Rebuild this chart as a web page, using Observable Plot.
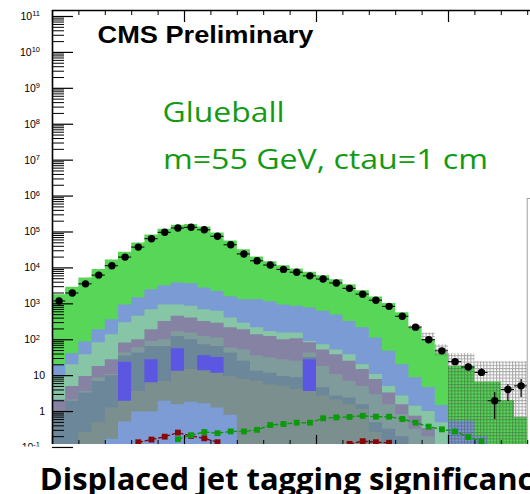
<!DOCTYPE html>
<html><head><meta charset="utf-8">
<script src="https://cdn.jsdelivr.net/npm/d3@7"></script>
<script src="https://cdn.jsdelivr.net/npm/@observablehq/plot@0.6"></script>
<style>html,body{margin:0;padding:0;background:#fff;overflow:hidden;}</style>
</head><body><div id="chart"></div>
<script>
// bin lower edges (36 bins)
const binLo = [0,1,2,3,4,5,6,7,8,9,10,11,12,13,14,15,16,17,18,19,20,21,22,23,24,25,26,27,28,29,30,31,32,33,34,35];

// observed data (black points)
const dataCounts = [1.2e3,2.0e3,3.6e3,6.3e3,1.15e4,2.0e4,3.8e4,6.5e4,9.8e4,1.29e5,1.35e5,1.15e5,7.6e4,4.4e4,2.45e4,1.58e4,1.2e4,9.1e3,7.6e3,6.0e3,4.9e3,3.8e3,2.7e3,1.86e3,1.26e3,850,450,224,100,49,24.5,17.4,12.3,2.0,4.1,5.2];
const dataErrLo = [null,null,null,null,null,null,null,null,null,null,null,null,null,null,null,null,null,null,null,null,null,null,null,null,null,null,null,null,null,44,20,14,9.5,0.6,1.9,2.45];
const dataErrHi = [null,null,null,null,null,null,null,null,null,null,null,null,null,null,null,null,null,null,null,null,null,null,null,null,null,null,null,null,null,54,29,21,15.5,3.4,5.6,7.8];

// stacked background (cumulative tops), largest first
const stackGreen = [1780,2900,5200,9100,16600,27500,49000,83000,120000,155000,162000,138000,93000,56000,32000,20000,14800,11500,9300,7600,6000,4700,3400,2300,1550,1020,560,204,100,41,18,18,6.5,6.5,2.0,0.68];
const stackBlue = [20,41,87,190,360,930,1480,2450,3200,3800,3600,2750,2200,1580,1290,1290,1150,930,850,760,620,490,320,215,112,48,20,8.7,4.7,1.47,0.54,0.54,0.2,null,null,null];
const stackTeal = [9.5,20,38,83,138,295,450,680,930,930,850,680,620,400,290,215,170,155,155,89,72,52,38,20,10.7,5.0,2.7,1.4,1.0,0.49,null,null,null,null,null,null];
const stackPurple = [2.1,5.0,9.5,18,27.5,81,100,190,320,450,400,320,290,215,190,138,123,100,107,83,52,38,25,14.8,7.8,3.3,1.55,0.74,0.34,null,null,null,null,null,null,null];
const stackGrayTeal = [0.93,2.1,3.6,8.7,10.7,43,60,89,100,170,155,123,112,59,52,35,31,27.5,25,43,18,10.7,6.9,5.0,2.95,1.55,0.83,0.32,0.2,null,null,null,null,null,null,null];
const stackSlate = [0.83,1.95,3.3,6.9,10,35,43,65,65,123,100,72,65,43,25,13.2,11.7,9.5,8.7,32,4.6,2.7,2.4,1.55,0.49,0.32,0.2,null,null,null,null,null,null,null,null,null];
const stackBrightBlue = [null,null,null,null,null,23.5,null,27.5,null,56,null,36,32,null,null,null,null,null,null,27.5,null,null,null,null,null,null,null,null,null,null,null,null,null,null,null,null];
const stackGray = [null,null,0.26,0.49,1.26,1.95,3.6,6.3,6.9,13.2,14.8,13.8,11.7,9.5,7.8,6.9,5.6,5.0,4.1,3.6,2.7,2.1,1.55,1.15,0.26,null,null,null,null,null,null,null,null,null,null,null];
const stackLightBlue = [null,null,null,null,0.17,0.51,0.98,0.98,1.95,1.55,1.82,1.66,1.26,0.79,null,null,null,null,null,null,null,null,null,null,null,null,null,null,null,null,null,null,null,null,null,null];

// MC uncertainty band
const bandLo = [null,null,null,null,null,null,null,null,null,null,null,null,null,null,null,null,null,null,null,null,null,null,null,null,null,null,null,190,93,36,0.01,0.01,0.01,0.01,0.01,0.01];
const bandHi = [null,null,null,null,null,null,null,null,null,null,null,null,null,null,null,null,null,null,null,null,null,null,null,null,null,null,null,250,155,72,41,41,24.5,24.5,24.5,24.5];

// signal overlays
const sigGreen = [null,null,null,null,null,null,null,null,null,0.17,0.22,0.27,0.25,0.28,0.28,0.31,0.42,0.45,0.49,0.49,0.65,0.69,0.71,0.76,0.72,0.72,0.62,0.49,0.38,0.32,0.28,0.195,0.15,null,null,null];
const sigRed = [null,null,null,null,null,null,0.14,0.166,0.2,0.26,0.21,0.18,0.14,null,null,null,null,null,null,null,null,null,0.126,0.15,0.14,0.135,null,null,null,null,null,null,null,null,null,null];

// axis ticks and labels
const yExpLabels = [11,10,9,8,7,6,5,4,3,2,-1];
const yPlainLabels = [{v: 10, t: "10"}, {v: 1, t: "1"}];
const yDecades = [-1,0,1,2,3,4,5,6,7,8,9,10,11];
const yMinorMult = [2,3,4,5,6,7,8,9];
const xMajor = [0,10,20,30];
const xMinor = [2,4,6,8,12,14,16,18,22,24,26,28,32,34,36];

const titleText = ["CMS Preliminary"];
const sampleText = ["Glueball"];
const paramText = ["m=55 GeV, ctau=1 cm"];
const xTitle = ["Displaced jet tagging significance"];

const yMin = 10 ** -0.917, yMax = 10 ** 11.167;
const legendEdge = 36.0, legendTop = 8.3e5;

const layers = [
  {vals: stackGreen, color: "#57d657"},
  {vals: stackBlue, color: "#7b9bd5"},
  {vals: stackTeal, color: "#86c5a5"},
  {vals: stackPurple, color: "#8682a3"},
  {vals: stackGrayTeal, color: "#7f9b9b"},
  {vals: stackSlate, color: "#6c8799"},
  {vals: stackBrightBlue, color: "#5b57e3"},
  {vals: stackGray, color: "#7a8f8e"},
  {vals: stackLightBlue, color: "#7d9cd6"}
];

const rows = (arr) => binLo.map((b, i) => ({b, v: arr[i]})).filter(d => d.v != null);
// histogram step outline: each bin contributes its two edges
const steps = (arr) => binLo.flatMap((b, i) => [{x: b, v: arr[i]}, {x: b + 1, v: arr[i]}]);

const minorY = [];
for (const e of yDecades) for (const m of yMinorMult) { const v = m * 10 ** e; if (v > yMin && v < yMax) minorY.push(v); }
const majorY = yDecades.map(e => 10 ** e);

const frameW = 478, frameH = 434;

const marks = [];
for (const L of layers) {
  marks.push(Plot.area(steps(L.vals), {x1: "x", y1: yMin, y2: "v", fill: L.color, clip: true}));
}
marks.push(Plot.area(binLo.flatMap((b, i) => [{x: b, lo: bandLo[i], hi: bandHi[i]}, {x: b + 1, lo: bandLo[i], hi: bandHi[i]}]),
  {x1: "x", y1: "lo", y2: "hi", fill: "url(#hatch)", clip: true}));

// signal overlays
marks.push(Plot.line(binLo.map((b, i) => ({b, v: sigRed[i]})), {x: d => d.b + 0.5, y: "v", stroke: "#860808", strokeWidth: 1.4, strokeDasharray: "4,3", clip: true}));
marks.push(Plot.dot(rows(sigRed), {x: d => d.b + 0.5, y: "v", symbol: "square", r: 3.3, fill: "#860808", clip: true}));
marks.push(Plot.line(binLo.map((b, i) => ({b, v: sigGreen[i]})), {x: d => d.b + 0.5, y: "v", stroke: "#0a9a0a", strokeWidth: 1.4, strokeDasharray: "4,3", clip: true}));
marks.push(Plot.dot(rows(sigGreen), {x: d => d.b + 0.5, y: "v", symbol: "square", r: 3.3, fill: "#0a9a0a", clip: true}));

// data
const errs = binLo.map((b, i) => ({b, lo: dataErrLo[i], hi: dataErrHi[i]})).filter(d => d.lo != null);
marks.push(Plot.ruleX(errs, {x: d => d.b + 0.5, y1: "lo", y2: "hi", stroke: "black", strokeWidth: 1.2, clip: true}));
marks.push(Plot.ruleY(rows(dataCounts), {y: "v", x1: "b", x2: d => d.b + 1, stroke: "black", strokeWidth: 1, clip: true}));
marks.push(Plot.dot(rows(dataCounts), {x: d => d.b + 0.5, y: "v", r: 3.7, fill: "black", clip: true}));

// legend box edge
marks.push(Plot.rect([{x1: legendEdge, x2: legendEdge + 5, y1: yMin / 10, y2: legendTop}], {x1: "x1", x2: "x2", y1: "y1", y2: "y2", fill: "white", stroke: "#a0a0a0", strokeWidth: 1, clip: true}));

// ticks
marks.push(Plot.ruleY(minorY, {stroke: "black", strokeWidth: 1, insetRight: frameW - 12}));
marks.push(Plot.ruleY(majorY, {stroke: "black", strokeWidth: 1.2, insetRight: frameW - 21}));
marks.push(Plot.ruleX(xMinor, {stroke: "black", strokeWidth: 1, insetBottom: frameH - 5}));
marks.push(Plot.ruleX(xMajor, {stroke: "black", strokeWidth: 1.2, insetBottom: frameH - 12}));
marks.push(Plot.ruleX(xMinor, {stroke: "black", strokeWidth: 1, insetTop: frameH - 4}));
marks.push(Plot.ruleX(xMajor, {stroke: "black", strokeWidth: 1.2, insetTop: frameH - 9}));
// frame (left, top)
marks.push(Plot.ruleX([0], {stroke: "black", strokeWidth: 1.6}));
marks.push(Plot.ruleY([yMax], {stroke: "black", strokeWidth: 1.6}));

// y labels
marks.push(Plot.text(yExpLabels, {y: e => 10 ** e, text: e => "10^" + e, frameAnchor: "left", textAnchor: "end", dx: -12.5, fontSize: 10.5, fill: "black", ariaDescription: "ylab-exp"}));
marks.push(Plot.text(yPlainLabels, {y: "v", text: "t", frameAnchor: "left", textAnchor: "end", dx: -7.5, fontSize: 10.5, fill: "black"}));

// annotations
marks.push(Plot.text(titleText, {text: d => d, frameAnchor: "top-left", dx: 45, dy: 32.5, textAnchor: "start", lineAnchor: "bottom", fontSize: 23, fontWeight: "bold", fill: "black", ariaDescription: "t-cms"}));
marks.push(Plot.text(sampleText, {text: d => d, frameAnchor: "top-left", dx: 110, dy: 111.7, textAnchor: "start", lineAnchor: "bottom", fontSize: 28, fill: "#139a13", fontFamily: "Open Sans", ariaDescription: "t-glue"}));
marks.push(Plot.text(paramText, {text: d => d, frameAnchor: "top-left", dx: 110.5, dy: 158.3, textAnchor: "start", lineAnchor: "bottom", fontSize: 28, fill: "#139a13", fontFamily: "Open Sans", ariaDescription: "t-param"}));
marks.push(Plot.text(xTitle, {text: d => d, frameAnchor: "bottom-left", dx: -12.7, dy: 45, textAnchor: "start", lineAnchor: "bottom", fontSize: 31, fontWeight: "bold", fill: "black", fontFamily: "Open Sans", ariaDescription: "t-xtitle"}));

const chart = Plot.plot({
  width: 530, height: 494,
  marginLeft: 52, marginRight: 0, marginTop: 10, marginBottom: 50,
  x: {domain: [0, frameW / 13.2], axis: null},
  y: {type: "log", domain: [yMin, yMax], axis: null},
  style: {fontFamily: "'Liberation Sans', Arial, sans-serif", background: "white"},
  marks
});
document.getElementById("chart").appendChild(chart);

const svg = d3.select(chart);
const defs = svg.insert("defs", ":first-child");
const pat = defs.append("pattern").attr("id", "hatch").attr("patternUnits", "userSpaceOnUse").attr("width", 3.2).attr("height", 3.2);
pat.append("path").attr("d", "M0,0.5H3.2M0.5,0V3.2").attr("stroke", "rgba(60,60,60,0.45)").attr("stroke-width", 1).attr("fill", "none");
const cp = defs.append("clipPath").attr("id", "lblclip");
cp.append("rect").attr("x", 0).attr("y", 0).attr("width", 530).attr("height", 446);

const grp = (d) => svg.selectAll("g").filter(function() { return this.getAttribute("aria-description") === d; });
grp("ylab-exp").attr("clip-path", "url(#lblclip)");
grp("ylab-exp").selectAll("text").each(function() {
  const t = d3.select(this);
  const [base, ex] = t.text().split("^");
  t.text(base);
  t.append("tspan").attr("dy", "-0.45em").attr("font-size", "7.5px").text(ex);
});
const fit = (d, len) => grp(d).selectAll("text").attr("textLength", len).attr("lengthAdjust", "spacingAndGlyphs");
fit("t-cms", 216);
fit("t-glue", 122);
fit("t-param", 325);
fit("t-xtitle", 512);
</script>
</body></html>
